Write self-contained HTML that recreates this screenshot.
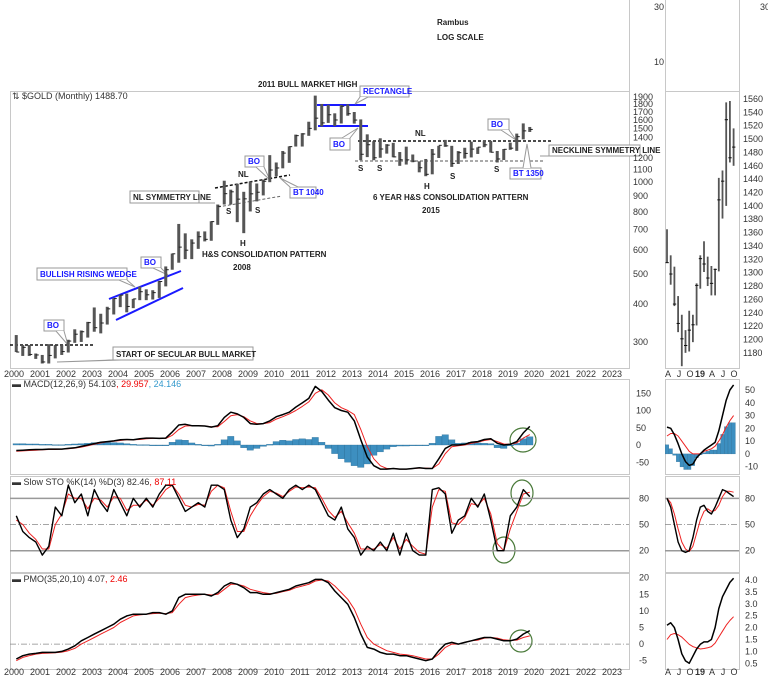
<!DOCTYPE html>
<html><head><meta charset="utf-8"><style>
html,body{margin:0;padding:0;background:#fff;}
svg{display:block;font-family:"Liberation Sans",sans-serif;}
.ax{font-size:9px;fill:#333;}
.an{font-size:8px;font-weight:bold;fill:#222;}
.bl{font-size:8px;font-weight:bold;fill:#1a1aff;}
.box{fill:#fff;stroke:#999;stroke-width:1;}
</style></head><body>
<svg id="chart" width="768" height="687" viewBox="0 0 768 687" xmlns="http://www.w3.org/2000/svg">
<g id="frames" fill="none" stroke="#c8c8c8" stroke-width="1">
<line x1="629.5" y1="0" x2="629.5" y2="368"/>
<line x1="665.5" y1="0" x2="665.5" y2="368"/>
<line x1="739.5" y1="0" x2="739.5" y2="368"/>
<line x1="10" y1="91.5" x2="629" y2="91.5"/>
<line x1="665" y1="91.5" x2="739" y2="91.5"/>
<rect x="10.5" y="91.5" width="619" height="277"/>
<rect x="665.5" y="91.5" width="74" height="277"/>
<rect x="10.5" y="379.5" width="619" height="95"/>
<rect x="665.5" y="379.5" width="74" height="95"/>
<rect x="10.5" y="476.5" width="619" height="96"/>
<rect x="665.5" y="476.5" width="74" height="96"/>
<rect x="10.5" y="573.5" width="619" height="96"/>
<rect x="665.5" y="573.5" width="74" height="96"/>
</g>
<text x="654" y="10" class="ax">30</text>
<text x="654" y="65" class="ax">10</text>
<text x="760" y="10" class="ax">30</text>
<text x="437" y="25" class="an">Rambus</text>
<text x="437" y="40" class="an">LOG SCALE</text>
<text x="258" y="87" class="an">2011 BULL MARKET HIGH</text>
<text x="12" y="99" class="ax" style="font-size:9px">⇅ $GOLD (Monthly) 1488.70</text>
<g id="annot"></g>
<g id="marks"></g>
<text x="12" y="387" class="ax">▬ MACD(12,26,9) 54.103<tspan fill="#e00">, 29.957</tspan><tspan fill="#39c">, 24.146</tspan></text>
<text x="12" y="485" class="ax">▬ Slow STO %K(14) %D(3) 82.46<tspan fill="#e00">, 87.11</tspan></text>
<text x="12" y="582" class="ax">▬ PMO(35,20,10) 4.07<tspan fill="#e00">, 2.46</tspan></text>
</svg>
<script>
const yearLabels=["2000","2001","2002","2003","2004","2005","2006","2007","2008","2009","2010","2011","2012","2013","2014","2015","2016","2017","2018","2019","2020","2021","2022","2023"];
const priceTicks=[1900,1800,1700,1600,1500,1400,1200,1100,1000,900,800,700,600,500,400,300];
const qHigh=[316,293,293,275,272,295,293,293,305,330,327,349,389,371,391,417,427,432,415,455,446,443,475,530,584,730,680,650,690,690,745,845,1011,945,988,930,1005,990,1020,1226,1160,1265,1310,1431,1447,1577,1920,1803,1792,1680,1790,1797,1697,1605,1434,1362,1392,1332,1345,1255,1307,1232,1170,1191,1284,1315,1375,1315,1264,1296,1357,1300,1366,1365,1265,1284,1347,1442,1557,1516];
const qLow=[278,270,270,264,255,255,265,272,277,298,300,310,324,320,342,369,390,375,387,411,411,413,418,456,517,545,560,560,605,640,643,725,845,845,740,681,802,865,905,1000,1045,1110,1157,1308,1308,1418,1478,1522,1563,1527,1556,1650,1555,1180,1208,1180,1202,1240,1206,1131,1142,1162,1077,1046,1061,1200,1305,1122,1147,1195,1205,1237,1302,1250,1160,1182,1276,1266,1381,1460];
const qClose=[278,288,273,272,258,271,293,279,302,318,324,347,334,346,385,416,427,392,415,438,428,435,473,517,583,613,599,632,663,650,743,834,917,930,880,882,916,927,1007,1096,1113,1245,1307,1420,1439,1500,1620,1563,1662,1598,1772,1675,1597,1234,1326,1202,1284,1322,1210,1184,1183,1172,1115,1061,1235,1320,1315,1152,1249,1242,1283,1302,1325,1253,1191,1281,1292,1409,1472,1488];
const monthLabels=["A","J","O","19","A","J","O"];
const mHigh=[1365,1326,1309,1265,1237,1214,1243,1237,1284,1326,1347,1324,1310,1306,1442,1453,1555,1557,1516];
const mLow=[1315,1282,1250,1211,1160,1180,1182,1196,1221,1276,1301,1280,1266,1266,1302,1381,1400,1465,1460];
const mClose=[1315,1298,1253,1224,1201,1191,1214,1222,1281,1321,1313,1292,1284,1305,1409,1437,1529,1472,1488];
const miniPriceTicks=[1560,1540,1520,1500,1480,1460,1440,1420,1400,1380,1360,1340,1320,1300,1280,1260,1240,1220,1200,1180];
const macdLine=[-16,-15,-14,-13,-13,-12,-12,-12,-10,-8,-4,0,4,8,10,12,15,16,15,18,20,20,19,20,38,58,60,56,56,55,52,56,80,95,90,80,62,60,62,70,82,88,95,110,122,135,170,155,130,108,100,95,70,15,-35,-60,-70,-70,-68,-70,-70,-68,-66,-68,-68,-40,-10,0,0,2,8,10,16,18,5,0,2,10,35,54];
const macdSignal=[-18,-17,-16,-15,-14,-13,-13,-12,-11,-9,-6,-2,2,6,9,11,13,15,15,16,18,19,19,19,28,45,55,56,56,55,53,53,68,85,88,82,70,62,62,65,75,82,90,100,112,125,150,160,145,122,108,100,88,45,-5,-40,-60,-68,-68,-70,-70,-68,-67,-67,-68,-55,-25,-5,-2,0,5,8,13,16,10,3,2,6,20,30];
const macdHist=[4,4,3,3,2,2,1,1,2,3,4,5,7,8,8,7,6,4,2,1,1,0,-1,-2,8,15,14,6,2,0,-3,2,15,25,12,-8,-15,-10,-4,2,10,14,12,16,18,16,22,8,-10,-25,-40,-50,-60,-65,-55,-30,-20,-12,-5,-3,-3,-2,-1,-2,5,25,30,15,5,6,8,6,5,4,-8,-10,0,5,18,24];
const macdTicks=[150,100,50,0,-50];
const stoK=[60,42,35,30,15,25,70,60,95,75,85,60,90,75,65,90,75,60,80,70,80,70,85,95,95,80,65,70,75,70,95,95,90,55,35,45,70,75,85,90,85,80,90,95,90,95,90,75,60,55,70,45,35,15,25,20,30,20,40,15,40,20,15,15,90,92,85,40,55,60,80,70,85,55,20,20,60,70,90,82];
const stoD=[55,50,40,33,22,22,50,62,85,80,80,68,80,78,70,82,80,66,72,72,78,72,80,90,95,85,72,70,73,72,88,95,92,65,42,42,60,72,82,88,86,82,88,93,92,93,92,80,66,58,65,52,40,22,22,22,27,23,35,22,33,25,18,16,70,90,88,52,50,58,74,72,80,62,28,20,45,65,85,87];
const stoTicks=[80,50,20];
const pmoLine=[-4.5,-3.5,-3,-2.8,-2.5,-2.5,-2.5,-2.2,-1.5,-0.5,1,2,3,4,5,6,7.5,8.5,9,9,9,9.5,9.5,9,10,14,15,15,15,15,14.5,15.5,17.5,18.5,18,17,15.5,15.5,15,15,15.5,16,16.5,17.5,18,18.5,19.5,19.5,18.5,16,14,12,8,3,-1,-1.5,-2.5,-3,-3,-3.5,-3.5,-4,-4.5,-5,-4.5,-2,0,0.5,0,0.5,1,1.5,2,2,1.5,1,1,1.5,3,4.07];
const pmoSignal=[-5,-4,-3.5,-3,-2.8,-2.7,-2.6,-2.4,-2,-1.3,0,1,2,3,4,5,6.5,7.5,8.5,8.8,9,9.2,9.3,9.2,9.5,12,14,14.5,14.8,15,14.8,15,16.5,18,18,17.5,16.5,16,15.5,15.2,15.3,15.8,16.2,17,17.5,18,19,19.3,19,17.5,15.5,13.5,10.5,6,2,0,-1,-2,-2.5,-3,-3.2,-3.5,-4,-4.5,-4.5,-3,-1,0,0,0.5,1,1.2,1.8,2,1.8,1.3,1.1,1.2,2,2.46];
const pmoTicks=[20,15,10,5,0,-5];
const mMacd=[21,20,15,8,0,-6,-9,-8,-3,0,3,5,7,9,18,30,42,50,54];
const mMacdSig=[14,16,16,14,10,6,2,0,0,0,2,3,4,6,10,15,21,26,30];
const mMacdHist=[7,4,-1,-6,-10,-12,-12,-9,-3,0,1,2,3,3,8,15,21,24,24];
const mMacdTickLabels=["50","40","30","20","10","0","-10"];
const mMacdTickVals=[50,40,30,20,10,0,-10];
const mStoK=[80,70,50,30,20,18,20,35,55,70,72,65,62,70,80,90,88,85,82];
const mStoD=[80,75,62,45,30,22,19,25,40,55,65,68,65,66,72,82,88,88,87];
const mPmo=[2.1,2.2,2.0,1.5,0.9,0.6,0.5,0.8,1.1,1.3,1.4,1.4,1.5,2.0,2.8,3.3,3.6,3.9,4.07];
const mPmoSig=[1.5,1.7,1.75,1.7,1.6,1.45,1.3,1.2,1.15,1.1,1.12,1.15,1.2,1.35,1.6,1.85,2.1,2.3,2.46];
const mPmoTicks=[4.0,3.5,3.0,2.5,2.0,1.5,1.0,0.5];

const NS="http://www.w3.org/2000/svg";
const G=document.getElementById("marks");
const A=document.getElementById("annot");
function mk(tag,attrs,parent){const e=document.createElementNS(NS,tag);for(const k in attrs)e.setAttribute(k,attrs[k]);(parent||G).appendChild(e);return e;}
const tx=q=>13+26*(q/4+0.125);
const yx=i=>14+26*i;
const py=p=>97+Math.log(1900/p)*132.7;
const mx=i=>667+3.7*i;
const mpy=p=>99+(1560-p)*0.668;
const macdY=v=>445-v*0.345;
const stoY=v=>550.7-(v-20)*0.873;
const pmoY=v=>644.1-v*3.32;
const mMacdY=v=>453.9-v*1.278;
const mHistY=v=>453.9-v*1.3;
const mPmoY=v=>580-(v-4)*23.8;

[377,675].forEach(yy=>{yearLabels.forEach((l,i)=>{const t=mk("text",{x:yx(i),y:yy,"text-anchor":"middle",class:"ax"});t.textContent=l;

});
const mxs=[668,679,690,700,712,723,734];
monthLabels.forEach((l,i)=>{const t=mk("text",{x:mxs[i],y:yy,"text-anchor":"middle",class:"ax","font-weight":l==="19"?"bold":"normal"});t.textContent=l;

});});

priceTicks.forEach(p=>{const t=mk("text",{x:633,y:py(p)+3,class:"ax"});t.textContent=p;

});
miniPriceTicks.forEach(p=>{const t=mk("text",{x:743,y:mpy(p)+3,class:"ax"});t.textContent=p;

});

qHigh.forEach((h,q)=>{const x=tx(q);
const b=mk("line",{x1:x,y1:py(h),x2:x,y2:py(qLow[q]),stroke:"#555","stroke-width":3});


const c=mk("line",{x1:x,y1:py(qClose[q]),x2:x+3,y2:py(qClose[q]),stroke:"#222","stroke-width":1});

});
mHigh.forEach((h,i)=>{const x=mx(i);
const b=mk("line",{x1:x,y1:mpy(h),x2:x,y2:mpy(mLow[i]),stroke:"#555","stroke-width":1.8});


const c=mk("line",{x1:x-1.5,y1:mpy(mClose[i]),x2:x+1.8,y2:mpy(mClose[i]),stroke:"#111","stroke-width":1});

});

function poly(arr,xf,yf,col,w,name){const pts=arr.map((v,i)=>xf(i).toFixed(1)+","+yf(v).toFixed(1)).join(" ");
const p=mk("polyline",{points:pts,fill:"none",stroke:col,"stroke-width":w,"stroke-linejoin":"round"});

}
function hline(x1,x2,y,col,w,dash,name){const l=mk("line",{x1:x1,y1:y,x2:x2,y2:y,stroke:col,"stroke-width":w});if(dash)l.setAttribute("stroke-dasharray",dash);

}
function ticks(vals,yf,x,name,labels){vals.forEach((v,i)=>{const t=mk("text",{x:x,y:yf(v)+3,class:"ax"});t.textContent=labels?labels[i]:v;

});}

macdHist.forEach((v,q)=>{const y0=macdY(0),y1=macdY(v);
const r=mk("rect",{x:tx(q)-3.25,y:Math.min(y0,y1),width:6.5,height:Math.max(0.8,Math.abs(y1-y0)),fill:"#3d8fc0",stroke:"#2a6a90","stroke-width":0.3});

});
poly(macdSignal,tx,macdY,"#e22",1,"macd-signal-line");
poly(macdLine,tx,macdY,"#000",1.5,"macd-line");
ticks(macdTicks,macdY,636,"macd-tick");
mMacdHist.forEach((v,i)=>{const y0=mHistY(0),y1=mHistY(v);
const r=mk("rect",{x:mx(i)-1.8,y:Math.min(y0,y1),width:3.6,height:Math.max(0.8,Math.abs(y1-y0)),fill:"#3d8fc0",stroke:"#2a6a90","stroke-width":0.3});

});
poly(mMacdSig,mx,mMacdY,"#e22",1,"mini-macd-signal-line");
poly(mMacd,mx,mMacdY,"#000",1.5,"mini-macd-line");
ticks(mMacdTickVals,mMacdY,745,"mini-macd-tick",mMacdTickLabels);

[[10,629],[665,739]].forEach(([a,b])=>{hline(a,b,stoY(80),"#999",1.5,null,"sto-80-line");hline(a,b,stoY(20),"#999",1.5,null,"sto-20-line");hline(a,b,stoY(50),"#888",0.8,"6,2,1,2","sto-50-line");});
poly(stoD,tx,stoY,"#e22",1,"sto-d-line");
poly(stoK,tx,stoY,"#000",1.4,"sto-k-line");
ticks(stoTicks,stoY,639,"sto-tick");
poly(mStoD,mx,stoY,"#e22",1,"mini-sto-d-line");
poly(mStoK,mx,stoY,"#000",1.4,"mini-sto-k-line");
ticks(stoTicks,stoY,745,"mini-sto-tick");

hline(10,629,pmoY(0),"#888",0.8,"6,2,1,2","pmo-zero-line");
poly(pmoSignal,tx,pmoY,"#e22",1,"pmo-signal-line");
poly(pmoLine,tx,pmoY,"#000",1.5,"pmo-line");
ticks(pmoTicks,pmoY,639,"pmo-tick");
poly(mPmoSig,mx,mPmoY,"#e22",1,"mini-pmo-signal-line");
poly(mPmo,mx,mPmoY,"#000",1.5,"mini-pmo-line");
ticks(mPmoTicks,mPmoY,745,"mini-pmo-tick",mPmoTicks.map(v=>v.toFixed(1)));

function txt(x,y,s,cls,name){const t=mk("text",{x:x,y:y,class:cls},A);t.textContent=s;

return t;}
function callout(x,y,w,h,s,cls,px,py2,name){
const ax=Math.min(Math.max(px,x+4),x+w-4);const ay=py2<y?y:y+h;
const pth=mk("path",{d:`M${x},${y}h${w}v${h}h${-w}z`,class:"box"},A);


const pt=mk("polyline",{points:`${ax-4},${ay} ${px},${py2} ${ax+4},${ay}`,fill:"#fff",stroke:"#999","stroke-width":1},A);


txt(x+3,y+h-3,s,cls,name);}
function dl(x1,y1,x2,y2,col,w,dash,name){const l=mk("line",{x1:x1,y1:y1,x2:x2,y2:y2,stroke:col,"stroke-width":w},A);if(dash)l.setAttribute("stroke-dasharray",dash);

}
dl(317,105,366,105,"#1a1aff",2,null,"rectangle-top-line");
dl(318,126,368,126,"#1a1aff",2,null,"rectangle-bottom-line");
dl(358,141,552,141,"#111",1.5,"3,2","neckline");
dl(355,161,545,161,"#555",1,"3,2","neckline-symmetry");
dl(215,188,290,175,"#111",1.5,"3,2","nl-2008");
dl(218,207,282,196,"#666",1,"3,2","nl-symmetry-2008");
dl(109,299,181,271,"#1a1aff",2,null,"wedge-upper-line");
dl(116,320,183,288,"#1a1aff",2,null,"wedge-lower-line");
dl(10,345,95,345,"#111",1.5,"3,2","breakout-line-2002");
callout(360,86,49,11,"RECTANGLE","bl",355,104,"rectangle-callout");
callout(330,138,20,12,"BO","bl",358,128,"bo-2013");
callout(488,119,21,11,"BO","bl",516,140,"bo-2019");
callout(510,168,31,11,"BT 1350","bl",527,144,"bt-1350");
callout(549,145,91,11,"NECKLINE SYMMETRY LINE","an",540,156,"neckline-symmetry-callout");
callout(130,191,69,12,"NL SYMMETRY LINE","an",215,203,"nl-symmetry-callout");
callout(245,156,19,11,"BO","bl",270,180,"bo-2009");
callout(290,187,26,11,"BT 1040","bl",280,178,"bt-1040");
callout(141,257,20,11,"BO","bl",168,275,"bo-2005");
callout(37,268,90,12,"BULLISH RISING WEDGE","bl",135,287,"wedge-callout");
callout(44,320,20,11,"BO","bl",68,345,"bo-2002");
callout(113,347,140,13,"START OF SECULAR BULL MARKET","an",57,362,"secular-bull-callout");
txt(415,136,"NL","an","nl-label-2015");
txt(358,171,"S","an","s-label-1");txt(377,171,"S","an","s-label-2");
txt(424,189,"H","an","h-label-2015");txt(450,179,"S","an","s-label-3");txt(494,172,"S","an","s-label-4");
txt(373,200,"6 YEAR H&S CONSOLIDATION PATTERN","an","pattern-label-2015");
txt(422,213,"2015","an","year-2015-label");
txt(238,177,"NL","an","nl-label-2008");
txt(226,214,"S","an","s-label-2008-1");txt(255,213,"S","an","s-label-2008-2");
txt(240,246,"H","an","h-label-2008");
txt(202,257,"H&S CONSOLIDATION PATTERN","an","pattern-label-2008");
txt(233,270,"2008","an","year-2008-label");
[[523,440,13,12,"macd-circle"],[522,493,11,13,"sto-top-circle"],[504,550,11,13,"sto-bottom-circle"],[521,641,11,11,"pmo-circle"]].forEach(c=>{
const e=mk("ellipse",{cx:c[0],cy:c[1],rx:c[2],ry:c[3],fill:"none",stroke:"#4a7a3a","stroke-width":1.2},A);

});
</script>
</body></html>
